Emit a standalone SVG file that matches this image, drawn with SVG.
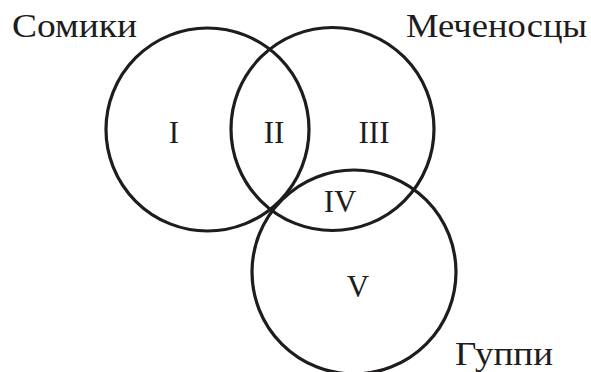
<svg xmlns="http://www.w3.org/2000/svg" width="591" height="372" viewBox="0 0 591 372">
<style>
.c{fill:none;stroke:#1e1c1c;stroke-width:3.2}
text{fill:#1e1c1c;font-family:'Liberation Serif','Times New Roman','DejaVu Serif',serif}
.lbl{font-size:34px}
.num{font-size:31px;text-anchor:middle}
</style>
<rect width="591" height="372" fill="#fff"/>
<g id="somiki">
<circle class="c" cx="207.5" cy="129.5" r="101.5"/>
<text class="lbl" x="12" y="37" textLength="125" lengthAdjust="spacingAndGlyphs">Сомики</text>
</g>
<g id="mechenostsy">
<circle class="c" cx="332.5" cy="129" r="101.5"/>
<text class="lbl" x="406" y="37" textLength="181" lengthAdjust="spacingAndGlyphs">Меченосцы</text>
</g>
<g id="guppi">
<circle class="c" cx="354" cy="272" r="102"/>
<text class="lbl" x="455" y="365" textLength="98" lengthAdjust="spacingAndGlyphs">Гуппи</text>
</g>
<g id="regions">
<text class="num" x="174" y="143">I</text>
<text class="num" x="274" y="143">II</text>
<text class="num" x="374" y="143">III</text>
<text class="num" x="340" y="212">IV</text>
<text class="num" x="358" y="297">V</text>
</g>
</svg>
